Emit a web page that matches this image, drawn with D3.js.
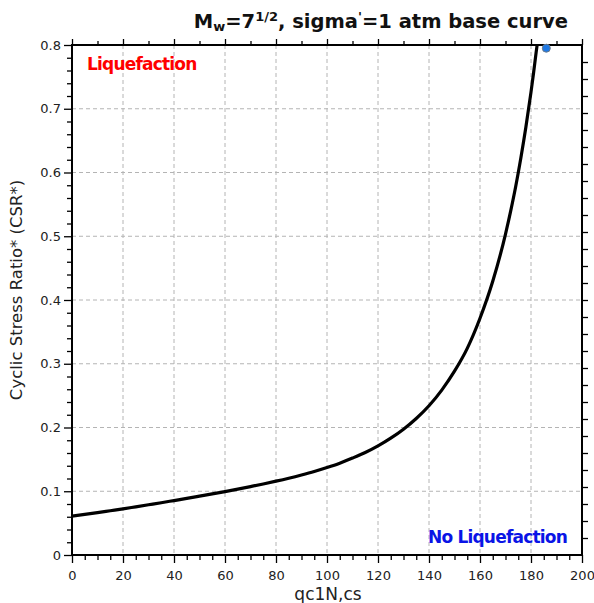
<!DOCTYPE html>
<html>
<head>
<meta charset="utf-8">
<script src="https://cdn.jsdelivr.net/npm/d3@7"></script>
<style>
  html, body { margin: 0; padding: 0; background: #fff; }
  svg { display: block; }
</style>
</head>
<body>
<svg id="chart" width="594" height="603"></svg>
<script>
// ---- data ----
const qc1Ncs = [0, 5, 10, 15, 20, 25, 30, 35, 40, 45, 50, 55, 60, 65, 70, 75, 80, 85, 90, 95,
  100, 105, 110, 115, 120, 125, 130, 135, 140, 145, 150, 155, 160, 165, 170, 172, 174, 176, 178, 180, 181, 182, 182.4];
const csr = [0.061, 0.0636, 0.0664, 0.0694, 0.0724, 0.0756, 0.0788, 0.082, 0.0854, 0.0888, 0.0923, 0.0958, 0.0995,
  0.1033, 0.1073, 0.1114, 0.1158, 0.1205, 0.1256, 0.1311, 0.1373, 0.1441, 0.152, 0.1607, 0.1711, 0.1832, 0.1973,
  0.2141, 0.2341, 0.2587, 0.2883, 0.3241, 0.3713, 0.4293, 0.5035, 0.539, 0.578, 0.6223, 0.6712, 0.7261, 0.756, 0.788, 0.80];
const pointX = [186];
const pointY = [0.795];
const xTicks = [0, 20, 40, 60, 80, 100, 120, 140, 160, 180, 200];
const yTicks = [0, 0.1, 0.2, 0.3, 0.4, 0.5, 0.6, 0.7, 0.8];
const annotations = ["Liquefaction", "No Liquefaction"];
const xLabel = "qc1N,cs";
const yLabel = "Cyclic Stress Ratio* (CSR*)";

// ---- layout ----
const m = { left: 72, top: 45 };
const pw = 510, ph = 510;

const svg = d3.select("#chart");
const g = svg.append("g").attr("transform", `translate(${m.left},${m.top})`);

const x = d3.scaleLinear().domain([0, 200]).range([0, pw]);
const y = d3.scaleLinear().domain([0, 0.8]).range([ph, 0]);

const font = "DejaVu Sans, Verdana, sans-serif";

// grid
const grid = g.append("g").attr("stroke", "#b4b4b4").attr("stroke-width", 1).attr("stroke-dasharray", "4,3");
xTicks.filter(t => t > 0 && t < 200).forEach(t => {
  grid.append("line").attr("x1", x(t)).attr("x2", x(t)).attr("y1", 0).attr("y2", ph);
});
yTicks.filter(t => t > 0 && t < 0.8).forEach(t => {
  grid.append("line").attr("x1", 0).attr("x2", pw).attr("y1", y(t)).attr("y2", y(t));
});

// minor ticks
const xMinor = d3.range(0, 201, 5).filter(v => v % 20 !== 0);
const yMinor = d3.range(0, 41, 1).map(v => v * 0.02).filter((v, i) => i % 5 !== 0);

function styleAxis(sel) {
  sel.select(".domain").remove();
  sel.selectAll(".tick line").attr("stroke", "#000").attr("stroke-width", 1.3);
  sel.selectAll(".tick text").attr("font-family", font).attr("font-size", 13).attr("fill", "#222");
}

g.append("g").attr("transform", `translate(0,${ph})`)
  .call(d3.axisBottom(x).tickValues(xMinor).tickSize(5).tickFormat(""))
  .call(styleAxis);
g.append("g").attr("transform", `translate(0,${ph})`)
  .call(d3.axisBottom(x).tickValues(xTicks).tickSize(8).tickPadding(8).tickFormat(d3.format("d")))
  .call(styleAxis);

g.append("g")
  .call(d3.axisLeft(y).tickValues(yMinor).tickSize(5).tickFormat(""))
  .call(styleAxis);
g.append("g")
  .call(d3.axisLeft(y).tickValues(yTicks).tickSize(8).tickPadding(3).tickFormat(d => d === 0 ? "0" : d3.format(".1f")(d)))
  .call(styleAxis);

// top axis ticks (every 10, longer at 20)
g.append("g")
  .call(d3.axisTop(x).tickValues(d3.range(10, 200, 20)).tickSize(4).tickFormat(""))
  .call(styleAxis);
g.append("g")
  .call(d3.axisTop(x).tickValues(xTicks).tickSize(6).tickFormat(""))
  .call(styleAxis);

// right axis ticks
g.append("g").attr("transform", `translate(${pw},0)`)
  .call(d3.axisRight(y).tickValues(d3.range(1, 30).map(i => i * 0.8 / 30)).tickSize(6).tickFormat(""))
  .call(styleAxis);

// frame
g.append("rect").attr("x", 0).attr("y", 0).attr("width", pw).attr("height", ph)
  .attr("fill", "none").attr("stroke", "#000").attr("stroke-width", 2);

// curve
const pts = qc1Ncs.map((q, i) => [q, csr[i]]);
const line = d3.line().x(d => x(d[0])).y(d => y(d[1])).curve(d3.curveMonotoneX);
g.append("path").datum(pts).attr("d", line)
  .attr("fill", "none").attr("stroke", "#000").attr("stroke-width", 3.2).attr("stroke-linejoin", "round");

// point
g.selectAll("circle.pt").data(pointX.map((v, i) => [v, pointY[i]])).enter().append("circle")
  .attr("class", "pt").attr("cx", d => x(d[0])).attr("cy", d => y(d[1])).attr("r", 4)
  .attr("fill", "#1f7ae6").attr("stroke", "#6b7a8a").attr("stroke-width", 1);

// annotations
g.append("text").attr("x", 15).attr("y", 25).text(annotations[0])
  .attr("font-family", font).attr("font-weight", "bold").attr("font-size", 17)
  .attr("fill", "#ff0000").attr("letter-spacing", "-0.8");
g.append("text").attr("x", 356).attr("y", 498).text(annotations[1])
  .attr("font-family", font).attr("font-weight", "bold").attr("font-size", 17)
  .attr("fill", "#0a14e6").attr("letter-spacing", "-0.8");

// axis labels
svg.append("text").attr("x", m.left + pw / 2 + 1).attr("y", 600).attr("text-anchor", "middle")
  .attr("font-family", font).attr("font-size", 17).attr("fill", "#222").text(xLabel);
svg.append("text").attr("transform", `translate(22,${m.top + ph / 2 - 10}) rotate(-90)`).attr("text-anchor", "middle")
  .attr("font-family", font).attr("font-size", 16.5).attr("fill", "#222").text(yLabel);

// title
const t = svg.append("text").attr("x", 568).attr("y", 28).attr("text-anchor", "end")
  .attr("font-family", font).attr("font-weight", "bold").attr("font-size", 19.5).attr("fill", "#111");
t.append("tspan").text("M");
t.append("tspan").attr("font-size", 13).attr("dy", 3).text("w");
t.append("tspan").attr("dy", -3).text("=7");
t.append("tspan").attr("font-size", 13).attr("dy", -7).text("1/2");
t.append("tspan").attr("dy", 7).text(", sigma");
t.append("tspan").attr("font-size", 13).attr("dy", -7).text("'");
t.append("tspan").attr("dy", 7).text("=1 atm base curve");
</script>
</body>
</html>
